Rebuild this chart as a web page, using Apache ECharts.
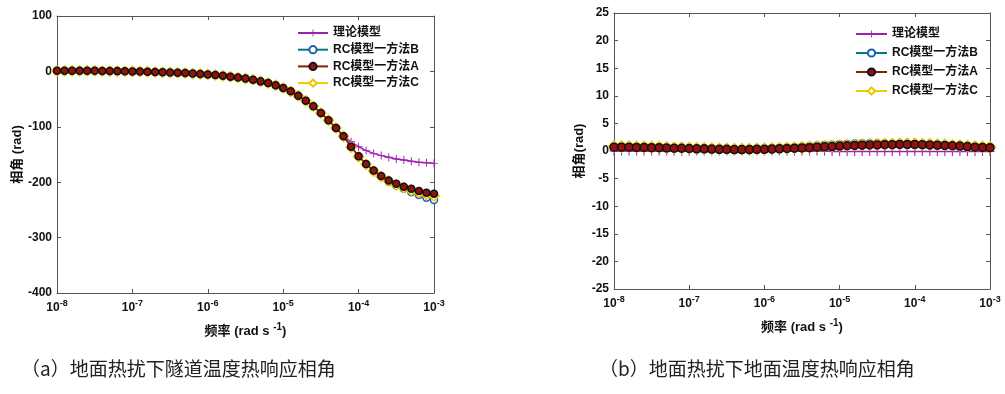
<!DOCTYPE html>
<html>
<head>
<meta charset="utf-8"/>
<script src="https://cdn.jsdelivr.net/npm/echarts@6/dist/echarts.min.js"></script>
<style>
html,body{margin:0;padding:0;background:#fff;}
#main{width:1005px;height:394px;}
</style>
</head>
<body>
<div id="main"></div>
<script>
// log10 of frequency (rad s^-1)
var freqExp = [-8,-7.9,-7.8,-7.7,-7.6,-7.5,-7.4,-7.3,-7.2,-7.1,-7,-6.9,-6.8,-6.7,-6.6,-6.5,-6.4,-6.3,-6.2,-6.1,
  -6,-5.9,-5.8,-5.7,-5.6,-5.5,-5.4,-5.3,-5.2,-5.1,-5,-4.9,-4.8,-4.7,-4.6,-4.5,-4.4,-4.3,-4.2,-4.1,
  -4,-3.9,-3.8,-3.7,-3.6,-3.5,-3.4,-3.3,-3.2,-3.1,-3];

var seriesNames = ['理论模型','RC模型一方法B','RC模型一方法A','RC模型一方法C'];

// (a) tunnel temperature phase
var aTheory = [1,1,1,1,1,1,0.8,0.6,0.5,0.3,0,-0.2,-0.5,-1,-1.5,-2,-2.5,-3,-4,-4.5,
  -5.5,-6.5,-8,-9.5,-11,-13,-15,-18,-21,-25,-30,-36,-44,-53,-63,-75,-88,-102,-117,-127,
  -136,-143,-148,-152,-155,-158,-160,-162,-164,-165,-166];
var aMethodB = [1,1,1,1,1,1,0.8,0.6,0.5,0.3,0,-0.2,-0.5,-1,-1.5,-2,-2.5,-3,-4,-4.5,
  -5.5,-6.5,-8,-9.5,-11,-13,-15,-18,-21,-25,-30,-36,-44,-53,-63,-75,-88,-102,-117,-136,
  -153,-168,-180,-190,-199,-206,-212,-218,-223,-228,-232];
var aMethodA = [1,1,1,1,1,1,0.8,0.6,0.5,0.3,0,-0.2,-0.5,-1,-1.5,-2,-2.5,-3,-4,-4.5,
  -5.5,-6.5,-8,-9.5,-11,-13,-15,-18,-21,-25,-30,-36,-44,-53,-63,-75,-88,-102,-117,-136,
  -153,-167,-179,-189,-197,-203,-208,-212,-216,-219,-221];
var aMethodC = [1,1,1,1,1,1,0.8,0.6,0.5,0.3,0,-0.2,-0.5,-1,-1.5,-2,-2.5,-3,-4,-4.5,
  -5.5,-6.5,-8,-9.5,-11,-13,-15,-18,-21,-25,-30,-36,-44,-53,-63,-75,-88,-102,-117,-137,
  -154,-168,-180,-190,-198,-205,-210,-215,-219,-222,-225];

// (b) ground surface temperature phase
var bTheory = [0,0,0,0,0,0,0,0,0,0,0,0,0,0,0,0,0,0,0,0,
  0,0,0,0,0,0,0,0,0,-0.1,-0.1,-0.1,-0.1,-0.1,-0.1,-0.1,-0.1,-0.1,-0.1,-0.1,
  -0.1,-0.1,-0.1,-0.1,-0.1,-0.1,-0.1,-0.1,-0.1,-0.1,-0.1];
var bMethodB = [0.7,0.7,0.7,0.65,0.65,0.6,0.6,0.55,0.5,0.5,0.45,0.4,0.4,0.35,0.3,0.3,0.25,0.25,0.3,0.35,
  0.4,0.45,0.5,0.55,0.6,0.7,0.8,0.9,1,1.05,1.15,1.2,1.25,1.3,1.3,1.3,1.3,1.25,1.25,1.2,
  1.2,1.15,1.1,1.05,1,0.95,0.9,0.8,0.7,0.65,0.6];
var bMethodA = [0.7,0.7,0.7,0.65,0.65,0.6,0.6,0.55,0.5,0.5,0.45,0.4,0.4,0.35,0.3,0.3,0.25,0.25,0.25,0.3,
  0.3,0.35,0.4,0.45,0.5,0.55,0.6,0.7,0.75,0.8,0.9,0.95,1,1.05,1.1,1.1,1.15,1.15,1.2,1.2,
  1.2,1.15,1.1,1.05,1,0.95,0.9,0.8,0.7,0.65,0.6];
var bMethodC = [0.8,0.8,0.8,0.75,0.75,0.7,0.7,0.65,0.6,0.6,0.55,0.5,0.5,0.45,0.4,0.4,0.35,0.35,0.35,0.4,
  0.4,0.45,0.5,0.55,0.6,0.65,0.7,0.8,0.85,0.9,1,1.05,1.1,1.15,1.2,1.2,1.25,1.25,1.3,1.3,
  1.3,1.25,1.2,1.15,1.1,1.05,1,0.9,0.8,0.75,0.7];

function pairs(ys){
  var out = [];
  for(var i=0;i<freqExp.length;i++){ out.push([freqExp[i], ys[i]]); }
  return out;
}

var plusPath = 'path://M4.4,0H5.6V4.4H10V5.6H5.6V10H4.4V5.6H0V4.4H4.4Z';
var styles = [
  {symbol: plusPath, size: 8, line: '#a020b0', item: {color:'#a020b0'}, z: 2},
  {symbol: 'circle', size: 7, line: '#007a80', item: {color:'#ffffff', borderColor:'#1a5fb4', borderWidth:1.5}, z: 3},
  {symbol: 'circle', size: 7, line: '#8a1a10', item: {color:'#951010', borderColor:'#111', borderWidth:1.5}, z: 5},
  {symbol: 'diamond', size: 10, line: '#e8d000', item: {color:'#ffffff', borderColor:'#e8c800', borderWidth:1.5}, z: 4}
];

function makeSeries(idx, datasets, sz){
  var out = [];
  for(var k=0;k<4;k++){
    var s = styles[k];
    out.push({
      name: seriesNames[k],
      type: 'line',
      xAxisIndex: idx*2,
      yAxisIndex: idx*2,
      data: pairs(datasets[k]),
      symbol: s.symbol,
      symbolSize: s.size + sz,
      showAllSymbol: true,
      z: s.z,
      lineStyle: {color: s.line, width: 1.5},
      itemStyle: s.item,
      animation: false
    });
  }
  return out;
}

var fam = 'Liberation Sans, Arial, Noto Sans CJK SC';
var axisCol = '#555';

function bottomAxis(gi){
  return {
    type: 'value', gridIndex: gi, min: -8, max: -3, interval: 1,
    axisLine: {show: true, onZero: false, lineStyle: {color: axisCol, width: 1}},
    axisTick: {inside: true, length: 4, lineStyle: {color: axisCol}},
    splitLine: {show: false},
    axisLabel: {
      margin: 6,
      formatter: function(v){ return '10{s|' + v + '}'; },
      fontFamily: fam, fontWeight: 'bold', fontSize: 12, color: '#111',
      rich: {s: {fontSize: 9, fontWeight: 'bold', fontFamily: fam, color: '#111', padding: [0,0,8,0]}}
    },
    name: '频率 (rad s {s|-1})',
    nameLocation: 'middle',
    nameGap: 29,
    nameTextStyle: {
      fontFamily: fam, fontWeight: 'bold', fontSize: 13, color: '#111',
      rich: {s: {fontSize: 10, fontWeight: 'bold', fontFamily: fam, color: '#111', padding: [0,0,8,0]}}
    }
  };
}
function topAxis(gi){
  return {
    type: 'value', gridIndex: gi, position: 'top', min: -8, max: -3, interval: 1,
    axisLine: {show: true, onZero: false, lineStyle: {color: axisCol}},
    axisTick: {inside: true, length: 4, lineStyle: {color: axisCol}},
    axisLabel: {show: false}, splitLine: {show: false}
  };
}
function leftAxis(gi, min, max, step, nm, gap){
  return {
    type: 'value', gridIndex: gi, min: min, max: max, interval: step,
    axisLine: {show: true, onZero: false, lineStyle: {color: axisCol}},
    axisTick: {inside: true, length: 4, lineStyle: {color: axisCol}},
    splitLine: {show: false},
    axisLabel: {margin: 5, fontFamily: fam, fontWeight: 'bold', fontSize: 12, color: '#111'},
    name: nm, nameLocation: 'middle', nameGap: gap,
    nameTextStyle: {fontFamily: fam, fontWeight: 'bold', fontSize: 13, color: '#111'}
  };
}
function rightAxis(gi, min, max, step){
  return {
    type: 'value', gridIndex: gi, position: 'right', min: min, max: max, interval: step,
    axisLine: {show: true, onZero: false, lineStyle: {color: axisCol}},
    axisTick: {inside: true, length: 4, lineStyle: {color: axisCol}},
    axisLabel: {show: false}, splitLine: {show: false}
  };
}

var legendText = {fontFamily: fam, fontWeight: 'bold', fontSize: 12, color: '#111'};

var chart = echarts.init(document.getElementById('main'));
var option = {
  backgroundColor: '#fff',
  animation: false,
  title: [
    {text: '（a）地面热扰下隧道温度热响应相角', left: 16, top: 354,
     textStyle: {fontFamily: 'Noto Sans CJK SC', fontWeight: 'normal', fontSize: 19, color: '#222'}},
    {text: '（b）地面热扰下地面温度热响应相角', left: 594, top: 354,
     textStyle: {fontFamily: 'Noto Sans CJK SC', fontWeight: 'normal', fontSize: 19, color: '#222'}}
  ],
  grid: [
    {left: 57, top: 16, width: 377, height: 277},
    {left: 614, top: 13, width: 376, height: 276}
  ],
  legend: [
    {data: seriesNames, left: 297, top: 27, padding: 0, orient: 'vertical', itemWidth: 30, itemHeight: 9, itemGap: 4.7,
     itemStyle: {}, textStyle: legendText, selectedMode: false},
    {data: seriesNames, left: 855, top: 28, padding: 0, orient: 'vertical', itemWidth: 31, itemHeight: 9, itemGap: 7,
     textStyle: legendText, selectedMode: false}
  ],
  xAxis: [bottomAxis(0), topAxis(0), bottomAxis(1), topAxis(1)],
  yAxis: [
    leftAxis(0, -400, 100, 100, '相角 (rad)', 30),
    rightAxis(0, -400, 100, 100),
    leftAxis(1, -25, 25, 5, '相角(rad)', 28),
    rightAxis(1, -25, 25, 5)
  ],
  series: makeSeries(0, [aTheory, aMethodB, aMethodA, aMethodC], 0)
    .concat(makeSeries(1, [bTheory, bMethodB, bMethodA, bMethodC], 1))
};
chart.setOption(option);
</script>
</body>
</html>
